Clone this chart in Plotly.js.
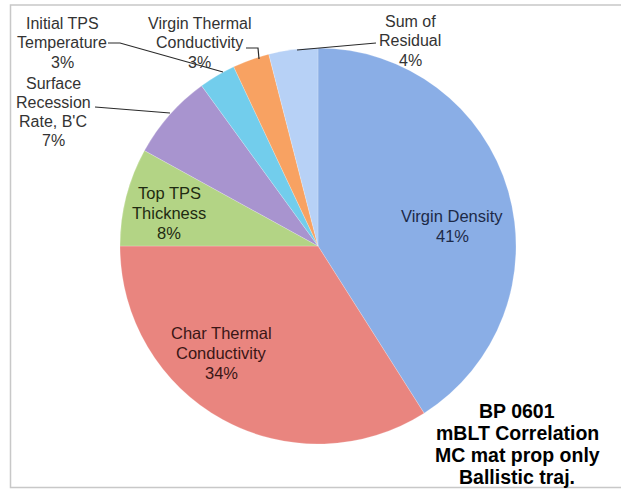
<!DOCTYPE html>
<html>
<head>
<meta charset="utf-8">
<script src="https://cdn.plot.ly/plotly-3.0.1.min.js"></script>
<style>
html,body{margin:0;padding:0;background:#fff;}
#chart{width:621px;height:489px;}
</style>
</head>
<body>
<div id="chart"></div>
<script>
// ---- data ----
var categories = ["Virgin Density", "Char Thermal Conductivity", "Top TPS Thickness",
  "Surface Recession Rate, B'C", "Initial TPS Temperature", "Virgin Thermal Conductivity", "Sum of Residual"];
var values = [41, 34, 8, 7, 3, 3, 4];
var labelLines = [
  ["Virgin Density"],
  ["Char Thermal", "Conductivity"],
  ["Top TPS", "Thickness"],
  ["Surface", "Recession", "Rate, B'C"],
  ["Initial TPS", "Temperature"],
  ["Virgin Thermal", "Conductivity"],
  ["Sum of", "Residual"]
];
var noteLines = ["BP 0601", "mBLT Correlation", "MC mat prop only", "Ballistic traj."];

// ---- styles ----
var colors = ["#8aaee6", "#e9857f", "#b3d485", "#a894cf", "#72cdec", "#f8a262", "#b7d1f6"];
var textColors = ["#1d2a48", "#3a1616", "#1f2b12", "#333333", "#333333", "#333333", "#333333"];
// label placement: [center x, first line y, line spacing, font size]
var labelPos = [
  [452, 216, 20, 16.5],
  [221, 333, 20, 16.5],
  [169, 193, 20, 16.5],
  [53, 83, 19.3, 16],
  [62, 23, 19.5, 16],
  [199, 23, 19.5, 16],
  [410, 21, 19.5, 16]
];
var leaders = [
  null, null, null,
  "M 95 107 L 170 113",
  "M 108 43 L 120 43 L 223 72",
  "M 246 48 L 258 48 L 259 59",
  "M 376 43 L 297 50"
];

var W = 621, H = 489;
var cx = 318, cy = 246, R = 198;

var annotations = [];
function addLines(lines, x, y0, dy, size, color, bold) {
  lines.forEach(function (t, i) {
    annotations.push({
      x: x, y: y0 + i * dy, xref: "x", yref: "y",
      text: bold ? "<b>" + t + "</b>" : t,
      showarrow: false, xanchor: "center", yanchor: "middle",
      font: {family: "Liberation Sans, Arial, sans-serif", size: size, color: color}
    });
  });
}
categories.forEach(function (c, i) {
  var p = labelPos[i];
  var lines = labelLines[i].concat([values[i] + "%"]);
  addLines(lines, p[0], p[1], p[2], p[3], textColors[i], false);
});
addLines(noteLines, 517, 411, 22, 19.5, "#000000", true);

var shapes = [];
leaders.forEach(function (d) {
  if (d) shapes.push({type: "path", xref: "x", yref: "y", path: d,
    line: {color: "#2a2a2a", width: 1.2}});
});
// picture frame
shapes.push({type: "path", xref: "x", yref: "y", path: "M 621 5 L 10.5 5 L 10.5 487.5 L 621 487.5",
  line: {color: "#c8c8c8", width: 1.5}});

var trace = {
  type: "pie",
  labels: categories,
  values: values,
  sort: false,
  direction: "clockwise",
  rotation: 0,
  textinfo: "none",
  hoverinfo: "label+percent",
  marker: {colors: colors, line: {color: "rgba(255,255,255,0.4)", width: 0.5}},
  domain: {x: [(cx - R) / W, (cx + R) / W], y: [1 - (cy + R) / H, 1 - (cy - R) / H]},
  showlegend: false
};

var layout = {
  width: W, height: H,
  margin: {l: 0, r: 0, t: 0, b: 0},
  paper_bgcolor: "#ffffff", plot_bgcolor: "rgba(0,0,0,0)",
  xaxis: {range: [0, W], visible: false, fixedrange: true},
  yaxis: {range: [H, 0], visible: false, fixedrange: true},
  showlegend: false,
  annotations: annotations,
  shapes: shapes
};

Plotly.newPlot("chart", [trace], layout, {staticPlot: true, displayModeBar: false});
</script>
</body>
</html>
